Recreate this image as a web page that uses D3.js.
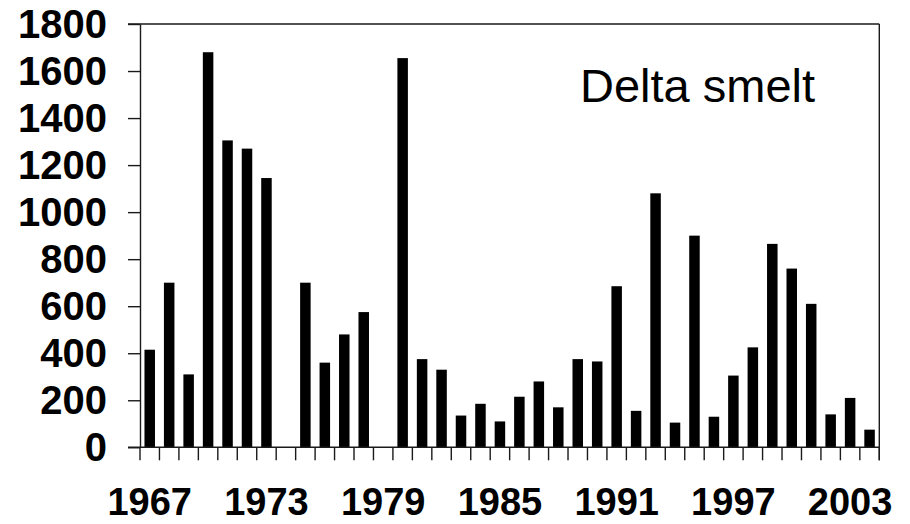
<!DOCTYPE html>
<html>
<head>
<meta charset="utf-8">
<script src="https://cdn.jsdelivr.net/npm/d3@7"></script>
<style>
  html, body { margin: 0; padding: 0; background: #fff; }
  svg { display: block; }
</style>
</head>
<body>
<svg id="chart" width="910" height="524"></svg>
<script>
// Data (1974 and 1979: no survey)
const years = d3.range(1967, 2005);
const values = [415, 700, 310, 1680, 1305, 1270, 1145, null, 700, 360,
                480, 575, null, 1655, 375, 330, 135, 185, 110, 215,
                280, 170, 375, 365, 685, 155, 1080, 105, 900, 130,
                305, 425, 865, 760, 610, 140, 210, 75];
const yTicks = [0, 200, 400, 600, 800, 1000, 1200, 1400, 1600, 1800];
const xLabels = [1967, 1973, 1979, 1985, 1991, 1997, 2003];
const title = "Delta smelt";

(function () {
const svg = d3.select("#chart");
const pL = 140, pR = 879.3, pT = 24, pB = 447.3;

const xBand = d3.scaleBand().domain(years).range([pL, pR]).padding(0);
const xBar = d3.scaleBand().domain(years).range([pL, pR])
  .paddingInner(0.46).paddingOuter(0.23);
const y = d3.scaleLinear().domain([0, 1800]).range([pB, pT]);

const stroke = "#1a1a1a";

// bars
svg.append("g").selectAll("rect")
  .data(years.map((yr, i) => ({yr, v: values[i]})).filter(d => d.v != null))
  .join("rect")
  .attr("x", d => xBar(d.yr))
  .attr("width", xBar.bandwidth())
  .attr("y", d => y(d.v))
  .attr("height", d => y(0) - y(d.v))
  .attr("fill", "#000");

// frame: top and right
svg.append("line").attr("x1", pL - 12).attr("x2", pR).attr("y1", pT).attr("y2", pT)
  .attr("stroke", stroke).attr("stroke-width", 1.4);
svg.append("line").attr("x1", pR).attr("x2", pR).attr("y1", pT).attr("y2", pB + 13)
  .attr("stroke", stroke).attr("stroke-width", 1.4);

// y axis
const yAxis = svg.append("g").attr("transform", `translate(${pL},0)`)
  .call(d3.axisLeft(y).tickValues(yTicks).tickFormat(d3.format("d"))
    .tickSize(12).tickSizeOuter(0).tickPadding(21));
yAxis.select(".domain").attr("stroke", stroke).attr("stroke-width", 1.4);
yAxis.selectAll(".tick line").attr("stroke", stroke).attr("stroke-width", 1.4);
yAxis.selectAll("text")
  .attr("font-family", "'Liberation Sans', Arial, sans-serif")
  .attr("font-weight", "bold").attr("font-size", 40).attr("fill", "#000")
  .attr("dy", "0.34em");

// x axis (ticks at band boundaries)
const boundaries = years.map(yr => xBand(yr)).concat([pR]);
svg.append("line").attr("x1", pL - 12).attr("x2", pR).attr("y1", pB).attr("y2", pB)
  .attr("stroke", stroke).attr("stroke-width", 1.4);
svg.append("g").selectAll("line").data(boundaries).join("line")
  .attr("x1", d => d).attr("x2", d => d)
  .attr("y1", pB).attr("y2", pB + 13)
  .attr("stroke", stroke).attr("stroke-width", 1.4);

svg.append("g").selectAll("text").data(xLabels).join("text")
  .attr("x", d => xBand(d) + xBand.bandwidth() / 2)
  .attr("y", 515)
  .attr("text-anchor", "middle")
  .attr("font-family", "'Liberation Sans', Arial, sans-serif")
  .attr("font-weight", "bold").attr("font-size", 38).attr("fill", "#000")
  .text(d => d);

// title inside plot
svg.append("text")
  .attr("x", 580).attr("y", 102)
  .attr("font-family", "'Liberation Sans', Arial, sans-serif")
  .attr("font-size", 47).attr("fill", "#000")
  .text(title);
})();
</script>
</body>
</html>
